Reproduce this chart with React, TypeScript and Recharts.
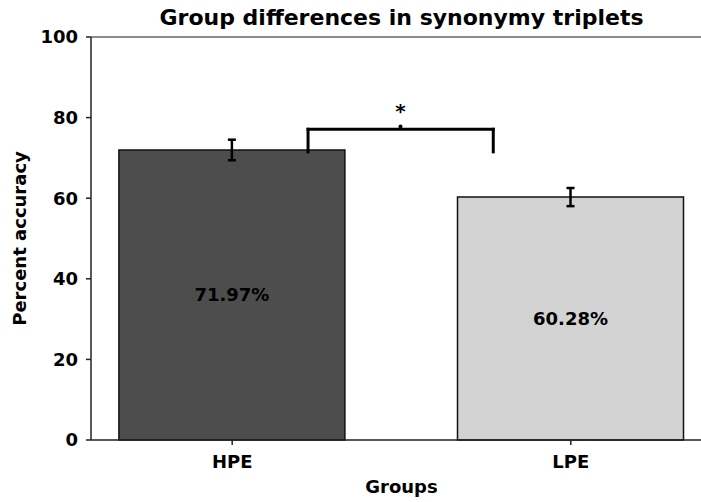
import React from 'react';
import {
  BarChart, Bar, XAxis, YAxis, ErrorBar, LabelList, Cell,
  ReferenceLine, ReferenceDot, Label,
} from 'recharts';

const groups = ['HPE', 'LPE'];
const accuracy = [71.97, 60.28];
const errors = [2.55, 2.25];
const barColors = ['#4d4d4d', '#d3d3d3'];
const yTicks = [0, 20, 40, 60, 80, 100];
const xPositions = [0, 1];
const bracketX = [0.224, 0.771];
const bracketTop = 77.1;
const bracketBottom = 71.5;
const starX = 0.497;
const starY = 81.7;
const dotY = 77.8;

const data = groups.map((g, i) => ({
  x: xPositions[i],
  name: g,
  value: accuracy[i],
  err: errors[i],
}));

const FONT = '"DejaVu Sans", sans-serif';
const lineStyle = { stroke: '#000', strokeWidth: 3, strokeLinecap: 'square' as const };

export default function App() {
  return (
    <div style={{ position: 'absolute', left: 0, top: 0, width: 701, height: 502, overflow: 'hidden', background: '#fff', fontFamily: FONT }}>
      <BarChart width={712} height={502} data={data} margin={{ top: 37, right: 0, bottom: 0, left: 0 }}>
        <XAxis
          dataKey="x"
          type="number"
          domain={[-0.417, 1.417]}
          allowDataOverflow
          ticks={xPositions}
          tickFormatter={(v: number) => groups[v]}
          height={62}
          tickSize={5}
          tickMargin={10}
          stroke="#222"
          strokeWidth={1.5}
          tick={{ fill: '#000', fontSize: 18, fontWeight: 'bold', fontFamily: FONT }}
        >
          <Label value="Groups" position="insideBottom" offset={9} style={{ fill: '#000', fontSize: 18, fontWeight: 'bold', fontFamily: FONT }} />
        </XAxis>
        <YAxis
          type="number"
          domain={[0, 100]}
          ticks={yTicks}
          width={91}
          tickSize={5}
          tickMargin={8}
          stroke="#222"
          strokeWidth={1.5}
          tick={{ fill: '#000', fontSize: 18, fontWeight: 'bold', fontFamily: FONT }}
        >
          <Label value="Percent accuracy" angle={-90} position="insideLeft" offset={20} style={{ textAnchor: 'middle', fill: '#000', fontSize: 18, fontWeight: 'bold', fontFamily: FONT }} />
        </YAxis>
        <ReferenceLine y={100} stroke="#666" strokeWidth={1.5} ifOverflow="visible">
          <Label value="Group differences in synonymy triplets" position="top" offset={12} style={{ fill: '#000', fontSize: 22, fontWeight: 'bold', fontFamily: FONT }} />
        </ReferenceLine>
        <Bar dataKey="value" barSize={226} stroke="#111" strokeWidth={1.5} isAnimationActive={false}>
          {data.map((d, i) => (
            <Cell key={d.name} fill={barColors[i]} />
          ))}
          <ErrorBar dataKey="err" width={4} stroke="#000" strokeWidth={2.5} direction="y" />
          <LabelList dataKey="value" position="center" formatter={(v: number) => `${v.toFixed(2)}%`} style={{ fill: '#000', fontSize: 18, fontWeight: 'bold', fontFamily: FONT }} />
        </Bar>
        <ReferenceLine segment={[{ x: bracketX[0], y: bracketBottom }, { x: bracketX[0], y: bracketTop }]} {...lineStyle} ifOverflow="visible" />
        <ReferenceLine segment={[{ x: bracketX[0], y: bracketTop }, { x: bracketX[1], y: bracketTop }]} {...lineStyle} ifOverflow="visible" />
        <ReferenceLine segment={[{ x: bracketX[1], y: bracketTop }, { x: bracketX[1], y: bracketBottom }]} {...lineStyle} ifOverflow="visible" />
        <ReferenceDot x={starX} y={dotY} r={2} fill="#000" stroke="none" ifOverflow="visible" />
        <ReferenceDot x={starX} y={starY} r={1} fill="none" stroke="none" ifOverflow="visible">
          <Label value="*" position="center" style={{ fill: '#000', fontSize: 20, fontWeight: 'bold', fontFamily: FONT }} />
        </ReferenceDot>
      </BarChart>
    </div>
  );
}
